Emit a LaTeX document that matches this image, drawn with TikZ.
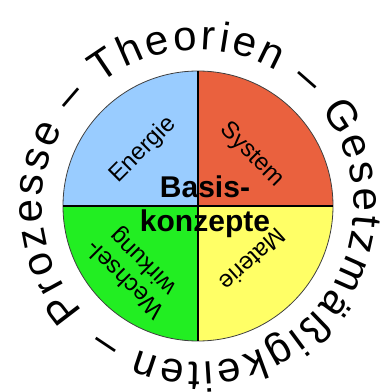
\documentclass[tikz,border=0pt]{standalone}
\usepackage{fontspec}
\setmainfont{Liberation Sans}
\usetikzlibrary{decorations.text}
\definecolor{energieblau}{RGB}{153,204,255}
\definecolor{systemrot}{RGB}{234,97,62}
\definecolor{wechselgruen}{RGB}{34,238,34}
\definecolor{materiegelb}{RGB}{255,255,102}
\newcommand{\ringfont}{\fontsize{42}{42}\selectfont}

\begin{document}
\begin{tikzpicture}[x=1pt,y=1pt,
  quadlabel/.style={inner sep=0pt,align=center,font=\fontsize{24}{25}\selectfont}]
\clip (0,0) rectangle (387,392);
\fill[white] (0,0) rectangle (387,392);
\coordinate (ctr) at (198,186);
% vier Viertel
\fill[energieblau] (ctr) -- ++(90:135) arc[start angle=90,end angle=180,radius=135] -- cycle;
\fill[systemrot] (ctr) -- ++(0:135) arc[start angle=0,end angle=90,radius=135] -- cycle;
\fill[wechselgruen] (ctr) -- ++(180:135) arc[start angle=180,end angle=270,radius=135] -- cycle;
\fill[materiegelb] (ctr) -- ++(270:135) arc[start angle=270,end angle=360,radius=135] -- cycle;
\draw[black!75,line width=0.8pt] (ctr) circle[radius=135];
\draw[line width=1.4pt] (ctr) ++(0,135) -- ++(0,-270);
\draw[line width=1.4pt] (ctr) ++(-135,0) -- ++(270,0);
% Beschriftung
\node[quadlabel,rotate=45] (energie) at (143,242) {Energie};
\node[quadlabel,rotate=-45] (system) at (252,237) {System};
\node[quadlabel,rotate=-138] (materie) at (253,132) {Materie};
\node[quadlabel,rotate=135] (wechsel) at (135,122) {Wechsel-\\wirkung};
\node[inner sep=0pt,align=center,font=\bfseries\fontsize{30}{34}\selectfont] (basis) at (205,185) {Basis-\\konzepte};
% Ring
\path[decorate,decoration={text along path,text align=fit to path,
  text={|\ringfont|Prozesse – Theorien – Gesetzmäßigkeiten –}}]
  (ctr) ++(222.5:156) arc[start angle=222.5,end angle=-128,radius=156];
\end{tikzpicture}
\end{document}
